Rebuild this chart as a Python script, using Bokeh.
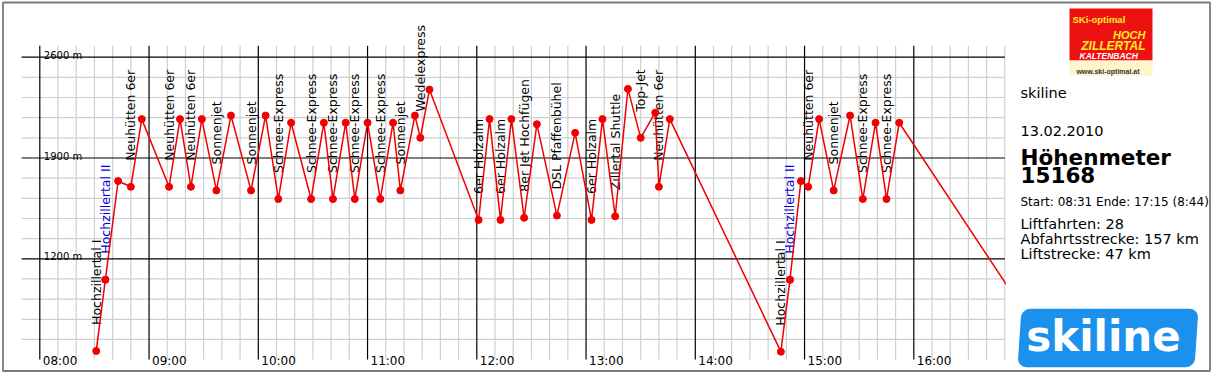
import numpy as np
from bokeh.plotting import figure
from bokeh.models import ColumnDataSource, Range1d
from bokeh.core.properties import value
from bokeh.embed import file_html
from bokeh.resources import INLINE

# ---------------- data ----------------
lift_names = [
    "Hochzillertal I", "Hochzillertal II", "Neuhütten 6er", "Neuhütten 6er",
    "Neuhütten 6er", "Sonnenjet", "Sonnenjet", "Schnee-Express",
    "Schnee-Express", "Schnee-Express", "Schnee-Express", "Schnee-Express",
    "Sonnenjet", "Wedelexpress", "6er Holzalm", "6er Holzalm",
    "8er Jet Hochfügen", "DSL Pfaffenbühel", "6er Holzalm", "Zillertal Shuttle",
    "Top-Jet", "Neuhütten 6er", "Hochzillertal I", "Hochzillertal II",
    "Neuhütten 6er", "Sonnenjet", "Schnee-Express", "Schnee-Express",
]
valley_times = ["08:31", "08:36", "08:50", "09:11", "09:23", "09:37", "09:56", "10:11",
                "10:29", "10:41", "10:53", "11:07", "11:18", "11:29", "12:01", "12:13",
                "12:26", "12:44", "13:03", "13:16", "13:30", "13:40", "14:47", "14:52",
                "15:02", "15:16", "15:32", "15:45"]
valley_elev = [560, 1055, 1700, 1700, 1700, 1675, 1675, 1615, 1615, 1615, 1615, 1615,
               1675, 2040, 1470, 1470, 1485, 1500, 1470, 1495, 2040, 1700, 555, 1055,
               1700, 1675, 1615, 1615]
summit_times = ["08:36", "08:43", "08:56", "09:17", "09:29", "09:45", "10:04", "10:18",
                "10:36", "10:48", "11:00", "11:14", "11:26", "11:34", "12:07", "12:19",
                "12:33", "12:54", "13:09", "13:23", "13:38", "13:46", "14:52", "14:58",
                "15:08", "15:25", "15:39", "15:52"]
summit_elev = [1055, 1740, 2170, 2170, 2170, 2195, 2195, 2145, 2145, 2145, 2145, 2145,
               2195, 2375, 2170, 2170, 2135, 2075, 2170, 2380, 2215, 2170, 1055, 1740,
               2170, 2195, 2145, 2145]
end_time = "17:15"
end_elev = 560

hour_labels = ["08:00", "09:00", "10:00", "11:00", "12:00", "13:00", "14:00", "15:00", "16:00"]
elev_ticks = [1200, 1900, 2600]
elev_labels = ["1200 m", "1900 m", "2600 m"]
grid_left_time = "07:50"
grid_right_time = "16:50"
grid_minor_minutes = 10
grid_elev_step = 140
grid_elev_min = 640
grid_bottom_elev = 500
grid_top_elev = 2680

info_resort = "skiline"
info_date = "13.02.2010"
info_title = "Höhenmeter"
info_total = "15168"
info_times = "Start: 08:31 Ende: 17:15 (8:44)"
info_stats = ["Liftfahrten: 28", "Abfahrtsstrecke: 157 km", "Liftstrecke: 47 km"]


def hrs(s):
    h, m = s.split(":")
    return int(h) + int(m) / 60.0


# ---------------- layout / scales ----------------
W, H = 1211, 372
PX_PER_H = 109.25
PX_PER_M = 0.144
T0 = 8 - 39.3 / PX_PER_H           # time at canvas left
E_TOP = 2600 + 56.7 / PX_PER_M     # elevation at canvas top
T1 = T0 + W / PX_PER_H
E_BOT = E_TOP - H / PX_PER_M


def tx(cx):
    return T0 + cx / PX_PER_H


def ey(cy):
    return E_TOP - cy / PX_PER_M


p = figure(width=W, height=H, output_backend="svg", toolbar_location=None,
           x_range=Range1d(T0, T1), y_range=Range1d(E_BOT, E_TOP),
           x_axis_location=None, y_axis_location=None, min_border=0,
           min_border_left=0, min_border_right=0, min_border_top=0, min_border_bottom=0)
p.outline_line_color = None
p.grid.visible = False
p.background_fill_color = "white"
p.border_fill_color = "white"

FONT = value("DejaVu Sans")

# ---------------- grid ----------------
t_left, t_right = hrs(grid_left_time), hrs(grid_right_time)
first_min = int(round(hrs(hour_labels[0]) * 60))
last_min = int(round(t_right * 60))
vminutes = list(range(first_min, last_min + 1, grid_minor_minutes))
hour_vals = [hrs(h) for h in hour_labels]
minor_v = [m / 60 for m in vminutes if m % 60 != 0]
major_v = [m / 60 for m in vminutes if m % 60 == 0]
helevs = list(range(grid_elev_min, elev_ticks[-1] + 1, grid_elev_step))
minor_h = [e for e in helevs if e not in elev_ticks]

p.segment(x0=minor_v, y0=[grid_bottom_elev] * len(minor_v), x1=minor_v,
          y1=[grid_top_elev] * len(minor_v), line_color="#cfcfcf", line_width=1.2)
p.segment(x0=[t_left] * len(minor_h), y0=minor_h, x1=[t_right] * len(minor_h),
          y1=minor_h, line_color="#cfcfcf", line_width=1.2)
p.segment(x0=[t_left] * len(elev_ticks), y0=elev_ticks, x1=[t_right] * len(elev_ticks),
          y1=elev_ticks, line_color="black", line_width=1.2)
p.segment(x0=major_v, y0=[grid_bottom_elev] * len(major_v), x1=major_v,
          y1=[grid_top_elev] * len(major_v), line_color="black", line_width=1.2)

# axis labels inside the grid
p.text(x=[hour_vals[0]] * len(elev_ticks), y=elev_ticks, text=elev_labels,
       x_offset=4, y_offset=-2, text_align="left", text_baseline="alphabetic",
       text_font=FONT, text_font_size="10px", text_color="black")
p.text(x=hour_vals, y=[grid_bottom_elev] * len(hour_vals), text=hour_labels,
       x_offset=3, y_offset=1, text_align="left", text_baseline="alphabetic",
       text_font=FONT, text_font_size="12px", text_color="black")

# ---------------- lift labels ----------------
lab_src = ColumnDataSource(dict(
    x=[hrs(t) for t in valley_times],
    y=valley_elev,
    name=lift_names,
    color=["#0000dd" if n == "Hochzillertal II" else "black" for n in lift_names],
))
p.text(x="x", y="y", text="name", source=lab_src, angle=np.pi / 2,
       y_offset=-26, text_align="left", text_baseline="middle",
       text_font=FONT, text_font_size="12.5px", text_color="color")

# ---------------- profile ----------------
px, py = [], []
for vt, ve, st, se in zip(valley_times, valley_elev, summit_times, summit_elev):
    px += [hrs(vt), hrs(st)]
    py += [ve, se]
px.append(hrs(end_time))
py.append(end_elev)
p.line(px, py, line_color="#f00000", line_width=1.5)
p.scatter(px, py, size=7, fill_color="#f00000", line_color="#f00000")

# clip the chart at the right grid edge
p.quad(left=[t_right + 1.0 / PX_PER_H], right=[T1], bottom=[E_BOT], top=[E_TOP],
       fill_color="white", line_color=None)

# ---------------- right panel ----------------
def txt(cx, cy, s, size, style="normal", color="black", font=FONT, align="left",
        baseline="alphabetic"):
    p.text(x=[tx(cx)], y=[ey(cy)], text=[s], text_align=align,
           text_baseline=baseline, text_font=font, text_font_size=size,
           text_font_style=style, text_color=color)


txt(1020, 92.5, info_resort, "14.5px")
txt(1020, 130, info_date, "14.5px")
txt(1020, 157, info_title, "21.5px", "bold")
txt(1020, 174.5, info_total, "21.5px", "bold")
txt(1020, 201, info_times, "12px")
for i, s in enumerate(info_stats):
    txt(1020, 223 + i * 15, s, "14.5px")

# outer frame
p.quad(left=[tx(2.5)], right=[tx(W - 1.5)], top=[ey(2)], bottom=[ey(H - 1.5)],
       fill_color=None, line_color="#7a7a7a", line_width=1.8)

# ski-optimal logo
p.quad(left=[tx(1069)], right=[tx(1152)], top=[ey(8)], bottom=[ey(60)],
       fill_color="#ee1111", line_color=None)
p.quad(left=[tx(1069)], right=[tx(1152)], top=[ey(60)], bottom=[ey(75.3)],
       fill_color="#fff4cc", line_color=None)
LOGO_FONT = value("Liberation Sans Narrow, Liberation Sans, DejaVu Sans")
txt(1072, 19, "SKi-optimal", "9.5px", "bold", "#ffee22", LOGO_FONT)
txt(1145, 34.5, "HOCH", "11px", "bold italic", "#ffee22", value("Liberation Sans"), "right")
txt(1145, 45, "ZILLERTAL", "12px", "bold italic", "#ffee22", value("Liberation Sans"), "right")
txt(1079, 55, "KALTENBACH", "8.5px", "bold italic", "white", value("Liberation Sans"))
txt(1107.5, 70.5, "www.ski-optimal.at", "7px", "bold", "#333333", value("Liberation Sans"), "center")

# skiline logo (rounded, slightly slanted box)
bx, by, bw, bh, r, sk = 1021.0, 308.3, 177.0, 58.4, 9.0, 4.0
pts = []
for cx, cy, a0 in [(bw - r, r, -90), (bw - r, bh - r, 0), (r, bh - r, 90), (r, r, 180)]:
    for a in np.linspace(a0, a0 + 90, 10):
        u = cx + r * np.cos(np.radians(a))
        v = cy + r * np.sin(np.radians(a))
        pts.append((bx + u - sk * v / bh, by + v))
p.patch([tx(a) for a, b in pts], [ey(b) for a, b in pts], fill_color="#1b90ec", line_color=None)
txt(1103, 336, "skiline", "42px", "bold", "white", align="center", baseline="middle")

open("out.html", "w").write(file_html(p, INLINE))
